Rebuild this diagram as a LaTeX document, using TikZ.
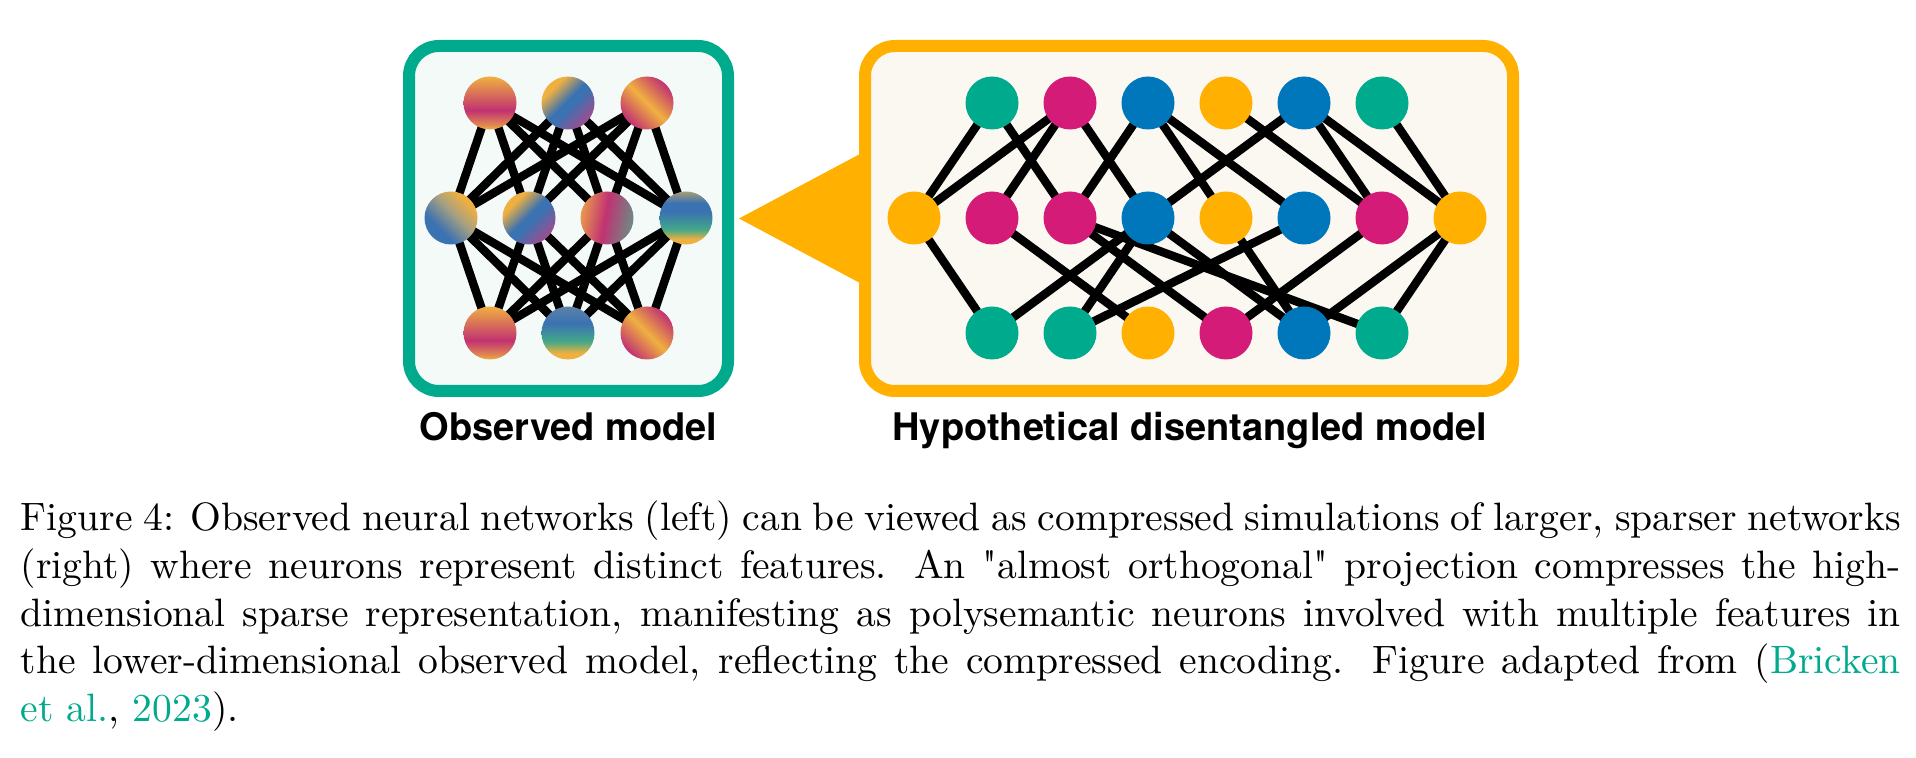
\documentclass[tikz,border=0pt]{standalone}
\usepackage{fontspec}
\newfontfamily\labfont{TeX Gyre Heros}
\newfontfamily\rawquote{Latin Modern Roman}[Ligatures=TeXOff]
\usetikzlibrary{calc}
\definecolor{cG}{HTML}{00AA8D}
\definecolor{cM}{HTML}{D41B77}
\definecolor{cB}{HTML}{0077BB}
\definecolor{cO}{HTML}{FFB000}
\definecolor{fillL}{HTML}{F3FAF7}
\definecolor{fillR}{HTML}{FAF8F0}
\definecolor{gO}{HTML}{F0B040}
\definecolor{gOr}{HTML}{E8984C}
\definecolor{gM}{HTML}{C13272}
\definecolor{gB}{HTML}{3A72B2}
\definecolor{gG}{HTML}{44A888}
\definecolor{gP}{HTML}{A04C8E}
\definecolor{gX}{HTML}{A8A080}
\definecolor{gY}{HTML}{6C8C84}
\definecolor{gK}{HTML}{A89C78}
\definecolor{gS}{HTML}{5C82A8}
\pgfdeclareverticalshading{shOMO}{100bp}{color(0bp)=(gO); color(25bp)=(gO); color(29bp)=(gO!70!gM); color(43bp)=(gM); color(75bp)=(gO); color(100bp)=(gO)}
\pgfdeclareverticalshading{shOBP}{100bp}{color(0bp)=(gP); color(25bp)=(gP); color(46bp)=(gB); color(52bp)=(gB); color(70bp)=(gO); color(100bp)=(gO)}
\pgfdeclareverticalshading{shMOM}{100bp}{color(0bp)=(gM); color(25bp)=(gM); color(50bp)=(gO); color(75bp)=(gM); color(100bp)=(gM)}
\pgfdeclareverticalshading{shBXO}{100bp}{color(0bp)=(gB); color(25bp)=(gB); color(35bp)=(gB); color(55bp)=(gX); color(72bp)=(gO); color(100bp)=(gO)}
\pgfdeclareverticalshading{shYMO}{100bp}{color(0bp)=(gY); color(25bp)=(gY); color(52bp)=(gM); color(75bp)=(gOr); color(100bp)=(gOr)}
\pgfdeclareverticalshading{shKBGO}{100bp}{color(0bp)=(gO); color(25bp)=(gO); color(30bp)=(gO); color(39bp)=(gG); color(56bp)=(gB); color(64bp)=(gB); color(75bp)=(gK); color(100bp)=(gK)}
\pgfdeclareverticalshading{shSBGO}{100bp}{color(0bp)=(gO); color(25bp)=(gO); color(31bp)=(gO); color(42bp)=(gG); color(59bp)=(gB); color(75bp)=(gS); color(100bp)=(gS)}
\pgfdeclarelayer{back}
\pgfdeclarelayer{mid}
\pgfsetlayers{back,mid,main}
\begin{document}
\begin{tikzpicture}[x=0.25pt,y=-0.25pt,
  neu/.style={circle, inner sep=0pt, minimum size=13.25pt, draw=none},
  grad/.style={neu, shading=#1},
  edge/.style={line width=2.1pt, black},
  boxL/.style={draw=cG, fill=fillL, line width=3pt, rounded corners=7.5pt, inner sep=0pt},
  boxR/.style={draw=cO, fill=fillR, line width=3pt, rounded corners=7.5pt, inner sep=0pt},
  lab/.style={font=\labfont\bfseries\fontsize{9.5}{11}\selectfont, inner sep=0pt},
  captext/.style={font=\fontsize{9.9}{11.9}\selectfont, inner sep=0pt, text width=470pt, align=justify}]
\useasboundingbox (0,0) rectangle (1916,758);

% boxes
\begin{pgfonlayer}{back}
\node[boxL, minimum width=79.75pt, minimum height=86.25pt] (obs) at (568.5,218.5) {};
\node[boxR, minimum width=162pt, minimum height=86.25pt] (hyp) at (1189,218.5) {};
\fill[cO] ($(obs.east)+(5,0)$) -- ($(hyp.west)+(0,-64)$) -- ($(hyp.west)+(0,64)$) -- cycle;
\end{pgfonlayer}

% observed model neurons
\node[grad=shOMO] (lt1) at (490,103) {};
\node[grad=shOBP, shading angle=45] (lt2) at (568,103) {};
\node[grad=shMOM, shading angle=-45] (lt3) at (647,103) {};
\node[grad=shBXO, shading angle=-45] (lm1) at (451,218) {};
\node[grad=shOBP, shading angle=45] (lm2) at (529,218) {};
\node[grad=shYMO, shading angle=80] (lm3) at (607,218) {};
\node[grad=shKBGO] (lm4) at (686,218) {};
\node[grad=shOMO] (lb1) at (490,333) {};
\node[grad=shSBGO] (lb2) at (568,333) {};
\node[grad=shMOM, shading angle=-45] (lb3) at (647,333) {};

% disentangled model neurons
\node[neu, fill=cG] (t1) at (992,103) {};
\node[neu, fill=cM] (t2) at (1070,103) {};
\node[neu, fill=cB] (t3) at (1148,103) {};
\node[neu, fill=cO] (t4) at (1226,103) {};
\node[neu, fill=cB] (t5) at (1304,103) {};
\node[neu, fill=cG] (t6) at (1382,103) {};
\node[neu, fill=cO] (m1) at (914,218) {};
\node[neu, fill=cM] (m2) at (992,218) {};
\node[neu, fill=cM] (m3) at (1070,218) {};
\node[neu, fill=cB] (m4) at (1148,218) {};
\node[neu, fill=cO] (m5) at (1226,218) {};
\node[neu, fill=cB] (m6) at (1304,218) {};
\node[neu, fill=cM] (m7) at (1382,218) {};
\node[neu, fill=cO] (m8) at (1460,218) {};
\node[neu, fill=cG] (b1) at (992,333) {};
\node[neu, fill=cG] (b2) at (1070,333) {};
\node[neu, fill=cO] (b3) at (1148,333) {};
\node[neu, fill=cM] (b4) at (1226,333) {};
\node[neu, fill=cB] (b5) at (1304,333) {};
\node[neu, fill=cG] (b6) at (1382,333) {};

% connections
\begin{pgfonlayer}{mid}
\foreach \a in {1,2,3}{
  \foreach \b in {1,2,3,4}{
    \draw[edge] (lt\a.center) -- (lm\b.center);
    \draw[edge] (lm\b.center) -- (lb\a.center);
  }
}
\foreach \a/\b in {t1/m1,t1/m3,t2/m1,t2/m2,t2/m4,t3/m3,t3/m5,t3/m6,t4/m7,t5/m4,t5/m7,t5/m8,t6/m8,
  m1/b1,m2/b3,m3/b4,m3/b6,m4/b1,m4/b2,m4/b5,m5/b5,m6/b2,m7/b4,m8/b5,m8/b6}{
  \draw[edge] (\a.center) -- (\b.center);
}
\end{pgfonlayer}

% labels
\node[lab, anchor=base] (lobs) at (568.5,441) {Observed model};
\node[lab, anchor=base] (lhyp) at (1190,441) {Hypothetical disentangled model};

% caption
\node[captext, anchor=north west] (caption) at (20,496.7) {\strut Figure 4: Observed neural networks (left) can be viewed as compressed simulations of larger, sparser networks\linebreak
(right) where neurons represent distinct features. An {\rawquote"}almost orthogonal{\rawquote"} projection compresses the high-\linebreak
dimensional sparse representation, manifesting as polysemantic neurons involved with multiple features in\linebreak
the lower-dimensional observed model, reflecting the compressed encoding. Figure adapted from (\textcolor{cG}{Bricken}\linebreak
\textcolor{cG}{et al.}, \textcolor{cG}{2023}).};
\end{tikzpicture}
\end{document}
